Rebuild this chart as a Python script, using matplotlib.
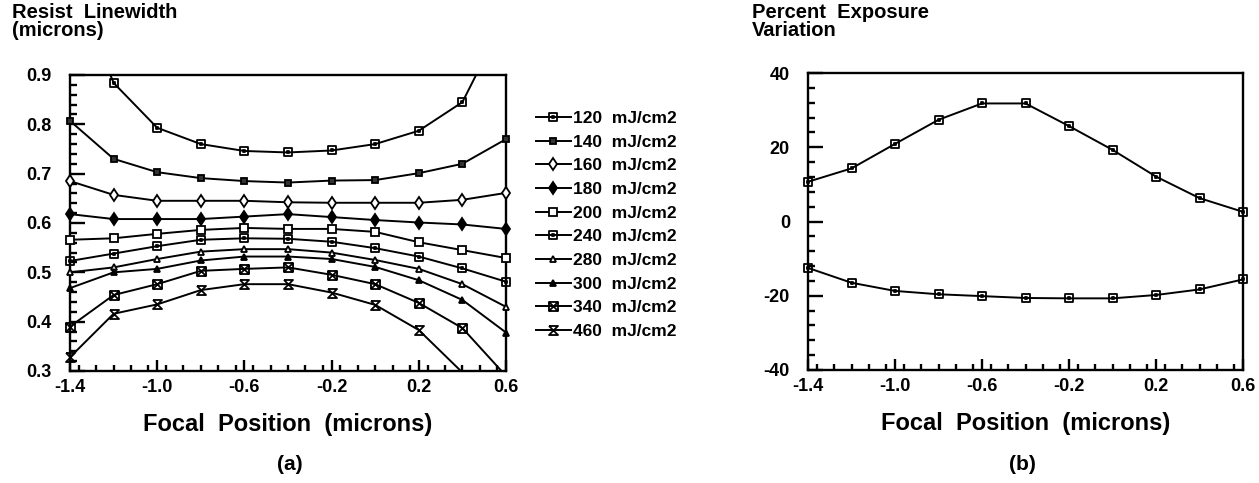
import numpy as np
import matplotlib
matplotlib.use("Agg")
import matplotlib.pyplot as plt
from matplotlib.path import Path
from matplotlib.lines import Line2D
from matplotlib.ticker import MultipleLocator

plt.rcParams['font.family'] = ['Liberation Sans', 'DejaVu Sans']
plt.rcParams['font.weight'] = 'bold'

# ---------------- data ----------------
focus = [-1.4, -1.2, -1.0, -0.8, -0.6, -0.4, -0.2, 0.0, 0.2, 0.4, 0.6]

dose_labels = ["120  mJ/cm2", "140  mJ/cm2", "160  mJ/cm2", "180  mJ/cm2",
               "200  mJ/cm2", "240  mJ/cm2", "280  mJ/cm2", "300  mJ/cm2",
               "340  mJ/cm2", "460  mJ/cm2"]

lw_120 = [1.10, 0.884, 0.793, 0.760, 0.746, 0.743, 0.747, 0.760, 0.787, 0.845, 1.02]
lw_140 = [0.807, 0.730, 0.703, 0.691, 0.685, 0.682, 0.686, 0.687, 0.701, 0.720, 0.770]
lw_160 = [0.685, 0.657, 0.645, 0.645, 0.645, 0.642, 0.641, 0.641, 0.641, 0.647, 0.661]
lw_180 = [0.618, 0.608, 0.608, 0.608, 0.613, 0.618, 0.612, 0.606, 0.601, 0.597, 0.588]
lw_200 = [0.566, 0.569, 0.578, 0.586, 0.590, 0.588, 0.588, 0.582, 0.561, 0.545, 0.529]
lw_240 = [0.523, 0.538, 0.553, 0.566, 0.569, 0.568, 0.562, 0.549, 0.532, 0.508, 0.481]
lw_280 = [0.500, 0.510, 0.527, 0.542, 0.547, 0.547, 0.540, 0.525, 0.507, 0.476, 0.430]
lw_300 = [0.468, 0.500, 0.507, 0.524, 0.532, 0.532, 0.527, 0.511, 0.484, 0.444, 0.378]
lw_340 = [0.390, 0.454, 0.476, 0.503, 0.507, 0.510, 0.495, 0.476, 0.438, 0.387, 0.290]
lw_460 = [0.328, 0.416, 0.435, 0.464, 0.476, 0.476, 0.459, 0.434, 0.383, 0.297, 0.200]

exp_upper = [10.7, 14.3, 20.9, 27.4, 31.8, 31.8, 25.7, 19.3, 12.1, 6.3, 2.6]
exp_lower = [-12.5, -16.5, -18.7, -19.6, -20.1, -20.6, -20.7, -20.7, -19.8, -18.3, -15.6]

x_ticks = [-1.4, -1.0, -0.6, -0.2, 0.2, 0.6]
x_ticklabels = ["-1.4", "-1.0", "-0.6", "-0.2", "0.2", "0.6"]
ya_ticks = [0.3, 0.4, 0.5, 0.6, 0.7, 0.8, 0.9]
ya_ticklabels = ["0.3", "0.4", "0.5", "0.6", "0.7", "0.8", "0.9"]
yb_ticks = [-40, -20, 0, 20, 40]
yb_ticklabels = ["-40", "-20", "0", "20", "40"]

# ---------------- marker shapes ----------------
def sq_dot():
    v = [(-1, -1), (1, -1), (1, 1), (-1, 1), (-1, -1),
         (-0.3, -0.3), (0.3, -0.3), (0.3, 0.3), (-0.3, 0.3), (-0.3, -0.3)]
    c = [Path.MOVETO, Path.LINETO, Path.LINETO, Path.LINETO, Path.CLOSEPOLY,
         Path.MOVETO, Path.LINETO, Path.LINETO, Path.LINETO, Path.CLOSEPOLY]
    return Path(v, c)

def sq_x():
    v = [(-1, -1), (1, -1), (1, 1), (-1, 1), (-1, -1),
         (-1, -1), (1, 1), (-1, 1), (1, -1)]
    c = [Path.MOVETO, Path.LINETO, Path.LINETO, Path.LINETO, Path.CLOSEPOLY,
         Path.MOVETO, Path.LINETO, Path.MOVETO, Path.LINETO]
    return Path(v, c)

def hourglass():
    v = [(-1, 1), (1, 1), (-1, -1), (1, -1), (-1, 1)]
    c = [Path.MOVETO, Path.LINETO, Path.LINETO, Path.LINETO, Path.LINETO]
    return Path(v, c)

styles = [
    dict(marker=sq_dot(), mfc='none', ms=5.5),
    dict(marker='s', mfc='#333333', ms=4.5),
    dict(marker='d', mfc='white', ms=6),
    dict(marker='d', mfc='black', ms=6),
    dict(marker='s', mfc='white', ms=6),
    dict(marker=sq_dot(), mfc='none', ms=6),
    dict(marker='^', mfc='white', ms=5),
    dict(marker='^', mfc='black', ms=5),
    dict(marker=sq_x(), mfc='none', ms=6.5),
    dict(marker=hourglass(), mfc='none', ms=6.5),
]

series_a = [lw_120, lw_140, lw_160, lw_180, lw_200, lw_240, lw_280, lw_300, lw_340, lw_460]

fig = plt.figure(figsize=(12.59, 4.83), dpi=100)
axa = fig.add_axes([70/1259, 1-371/483, 436/1259, 296/483])
axb = fig.add_axes([808/1259, 1-370/483, 435/1259, 297/483])

LW = 1.4
x = np.array(focus)
handles = []
for vals, st in zip(series_a, styles):
    y = np.array(vals)
    axa.plot(x, y, color='black', lw=LW, clip_on=True, zorder=2)
    m = (y >= 0.3) & (y <= 0.9)
    axa.plot(x[m], y[m], ls='none', marker=st['marker'], mfc=st['mfc'],
             mec='black', mew=1.3, ms=st['ms'], clip_on=False, zorder=3)
    handles.append(Line2D([], [], color='black', lw=LW, marker=st['marker'],
                          mfc=st['mfc'], mec='black', mew=1.3, ms=st['ms']))

axa.set_xlim(-1.4, 0.6)
axa.set_ylim(0.3, 0.9)

bm = dict(marker=sq_dot(), mfc='none', mec='black', mew=1.3, ms=5.5)
for vals in (exp_upper, exp_lower):
    y = np.array(vals)
    axb.plot(x, y, color='black', lw=LW, zorder=2)
    axb.plot(x, y, ls='none', clip_on=False, zorder=3, **bm)
axb.set_xlim(-1.4, 0.6)
axb.set_ylim(-40, 40)

for ax, yt, ytl, yminor in ((axa, ya_ticks, ya_ticklabels, 0.02),
                            (axb, yb_ticks, yb_ticklabels, 4)):
    for s in ax.spines.values():
        s.set_linewidth(1.7)
    ax.set_xticks(x_ticks)
    ax.set_xticklabels(x_ticklabels)
    ax.set_yticks(yt)
    ax.set_yticklabels(ytl)
    ax.xaxis.set_minor_locator(MultipleLocator(0.08))
    ax.yaxis.set_minor_locator(MultipleLocator(yminor))
    ax.tick_params(axis='y', which='major', direction='in', length=11, width=1.7,
                   pad=13, labelsize=13)
    ax.tick_params(axis='y', which='minor', direction='in', length=5, width=1.7)
    ax.tick_params(axis='x', which='major', direction='in', length=8, width=1.7,
                   pad=6, labelsize=13)
    ax.tick_params(axis='x', which='minor', direction='in', length=4, width=1.7)
    ax.set_xlabel("Focal  Position  (microns)", fontsize=17, fontweight='bold',
                  labelpad=12)

fig.text(12/1259, 1-3/483, "Resist  Linewidth\n(microns)", fontsize=14.5,
         fontweight='bold', va='top', ha='left', linespacing=0.9)
fig.text(752/1259, 1-3/483, "Percent  Exposure\nVariation", fontsize=14.5,
         fontweight='bold', va='top', ha='left', linespacing=0.9)
fig.text(290/1259, 1-465/483, "(a)", fontsize=15, fontweight='bold',
         ha='center', va='center')
fig.text(1022/1259, 1-465/483, "(b)", fontsize=15, fontweight='bold',
         ha='center', va='center')

fig.legend(handles, dose_labels, loc='upper left',
           bbox_to_anchor=(536/1259, 1-111/483), frameon=False,
           handlelength=2.0, handletextpad=0.15,
           labelspacing=0.49, borderaxespad=0, borderpad=0,
           prop=dict(weight='bold', size=12.5))

fig.savefig("out.png", dpi=100)
